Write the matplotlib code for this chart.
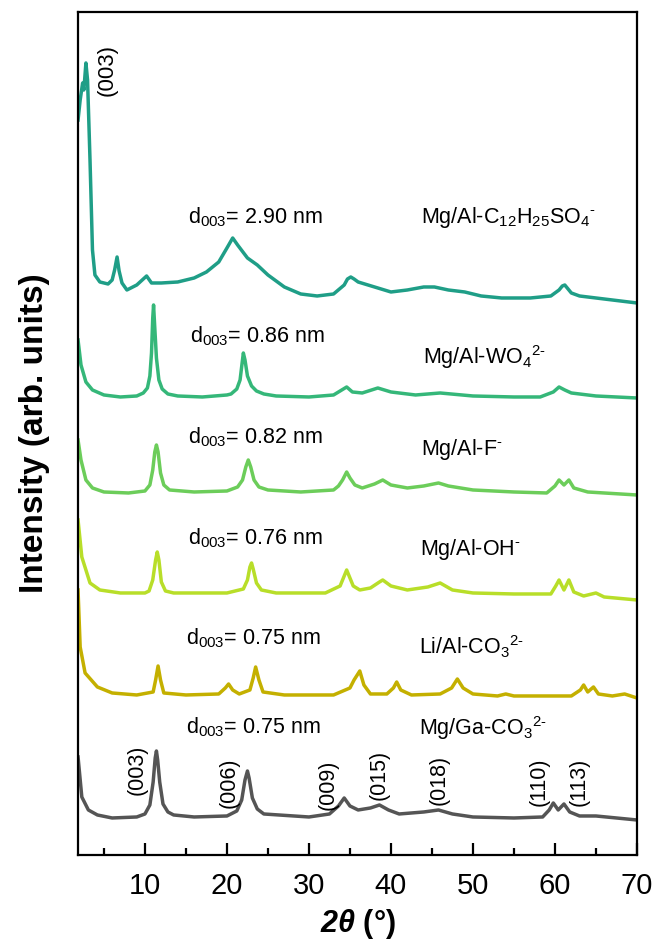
import numpy as np
import matplotlib
matplotlib.use('Agg')
import matplotlib.pyplot as plt

plt.rcParams['font.family'] = ['Liberation Sans', 'DejaVu Sans']
plt.rcParams['mathtext.fontset'] = 'custom'
plt.rcParams['mathtext.rm'] = 'Liberation Sans'
plt.rcParams['mathtext.it'] = 'Liberation Sans:italic'
plt.rcParams['mathtext.bf'] = 'Liberation Sans:bold'
plt.rcParams['mathtext.bfit'] = 'Liberation Sans:bold:italic'
plt.rcParams['mathtext.default'] = 'regular'

# Patrones de difraccion (2theta, intensidad relativa)
tt_c12 = [1.84, 2.1, 2.4, 2.55, 2.8, 3.0, 3.3, 3.6, 3.9, 4.5, 5.5, 6.0, 6.3, 6.6, 6.85, 7.2, 7.8, 9.0,
          10.2, 10.8, 12, 14, 16, 17.5, 19, 20.0, 20.7, 21.3, 22.5, 23.7, 25, 27, 29, 31, 33, 34.3,
          34.7, 35.1, 35.5, 36, 38, 40, 42, 44, 45.3, 47, 49, 51, 53.5, 57, 59.5, 60.5, 60.9, 61.2,
          61.6, 62, 63, 66, 70]
i_c12 = [183, 203, 220, 213, 240, 223, 143, 53, 28, 21, 19, 23, 33, 46, 32, 20, 13, 18,
         27, 20, 20, 21, 25, 31, 41, 55, 65, 58, 45, 38, 28, 16, 9, 7, 9, 18,
         24, 26, 24, 21, 16, 11, 13, 16, 16, 13, 11, 7, 5, 5, 7, 13, 17, 18,
         14, 10, 7, 4, 0]

tt_wo4 = [1.84, 2.2, 2.8, 3.6, 5, 7, 9.0, 9.8, 10.3, 10.6, 10.8, 10.95, 11.05, 11.2, 11.4, 11.7, 12.1,
          12.8, 14, 17, 20, 20.5, 21.2, 21.6, 21.85, 22.0, 22.2, 22.5, 23.0, 23.6, 24.5, 26, 30, 33,
          34.0, 34.6, 35.3, 36.5, 38.4, 40, 43, 46, 50, 55, 58.2, 59.8, 60.5, 61.2, 62, 65, 70]
i_wo4 = [58, 33, 16, 8, 3, 1, 2, 5, 10, 22, 45, 80, 93, 70, 40, 18, 9,
         4, 2, 1, 3, 4, 9, 18, 35, 45, 38, 22, 12, 7, 4, 2, 1, 3,
         8, 11, 6, 5, 10, 6, 3, 5, 2, 1, 1, 6, 11, 8, 5, 2, 0]

tt_f = [1.84, 2.2, 2.8, 3.6, 5, 8, 10.0, 10.6, 10.95, 11.2, 11.4, 11.6, 11.9, 12.3, 13, 16, 20, 21.3,
        21.9, 22.3, 22.6, 22.9, 23.3, 23.9, 25, 29, 33, 33.6, 34.1, 34.6, 35.0, 35.6, 36.5, 38, 39,
        40, 42, 44, 45.8, 47, 50, 55, 59, 60.0, 60.5, 61.1, 61.7, 62.3, 64, 70]
i_f = [55, 35, 15, 7, 3, 2, 4, 10, 25, 43, 50, 43, 22, 10, 5, 3, 4, 8,
       15, 28, 35, 28, 15, 8, 5, 3, 5, 9, 15, 23, 17, 10, 7, 11, 15,
       10, 7, 9, 12, 9, 5, 3, 2, 9, 15, 10, 15, 7, 3, 0]

tt_oh = [1.84, 2.3, 3.3, 4.5, 7, 10, 10.5, 10.95, 11.3, 11.5, 11.7, 12.0, 12.5, 13.5, 20, 22.0, 22.5,
         22.8, 23.0, 23.2, 23.6, 24.2, 26, 32, 33.8, 34.2, 34.6, 34.9, 35.4, 36.2, 37.5, 38.6, 39,
         40, 42, 44.5, 46, 47.5, 50, 55, 59.5, 60.1, 60.5, 61.1, 61.7, 62.3, 63.5, 65, 66, 70]
i_oh = [80, 43, 17, 10, 7, 7, 9, 20, 40, 48, 40, 18, 9, 7, 7, 11, 20,
        33, 37, 31, 17, 10, 7, 7, 14, 22, 30, 24, 14, 10, 12, 18, 20,
        14, 10, 13, 17, 10, 7, 6, 6, 14, 20, 10, 20, 8, 4, 7, 3, 0]

tt_li = [1.84, 2.1, 2.7, 4.2, 6, 9, 11.0, 11.3, 11.6, 11.9, 12.3, 15, 19, 19.8, 20.2, 20.7, 21.5, 22.8,
         23.2, 23.5, 23.9, 24.4, 27, 33, 35.0, 35.5, 36.2, 36.7, 37.5, 39.5, 40.3, 40.7, 41.2, 42.5,
         46, 47.4, 48.1, 48.8, 50, 53, 54, 55, 62, 63.1, 63.5, 64.0, 64.7, 65.3, 67, 68.5, 70]
i_li = [108, 51, 25, 11, 5, 3, 6, 18, 32, 18, 5, 3, 4, 10, 14, 8, 4, 8,
        20, 31, 18, 6, 3, 3, 10, 18, 27, 13, 4, 4, 10, 16, 8, 3,
        4, 10, 19, 10, 4, 2, 4, 2, 2, 8, 13, 6, 11, 4, 2, 4, 0]

tt_ga = [1.84, 2.3, 3.1, 4.2, 6, 9.0, 10.0, 10.6, 11.0, 11.25, 11.4, 11.55, 11.8, 12.2, 12.8, 13.5, 16,
         20, 21.2, 21.8, 22.2, 22.5, 22.7, 23.1, 23.7, 24.5, 30, 32.5, 33.6, 34.3, 35, 36, 37.5,
         38.6, 39.7, 41, 44, 45.8, 47.5, 50, 55, 58.5, 59.3, 59.8, 60.4, 61.1, 61.8, 63, 65, 70]
i_ga = [63, 23, 10, 5, 2, 3, 6, 15, 38, 62, 69, 60, 38, 16, 8, 5, 3,
        4, 9, 20, 40, 49, 42, 22, 11, 6, 3, 6, 14, 22, 14, 10, 12,
        15, 10, 6, 8, 10, 6, 3, 2, 3, 10, 17, 10, 16, 8, 4, 4, 0]

patterns = [(tt_c12, i_c12), (tt_wo4, i_wo4), (tt_f, i_f), (tt_oh, i_oh), (tt_li, i_li), (tt_ga, i_ga)]
offsets = [552, 457, 360, 255, 157, 35]
colors = ['#1f9e87', '#35b779', '#6ccd5a', '#b8de29', '#c4b000', '#555555']
samples = [r'Mg/Al-C$_{12}$H$_{25}$SO$_4$$^{\text{-}}$', r'Mg/Al-WO$_4$$^{\text{2-}}$', r'Mg/Al-F$^{\text{-}}$',
           r'Mg/Al-OH$^{\text{-}}$', r'Li/Al-CO$_3$$^{\text{2-}}$', r'Mg/Ga-CO$_3$$^{\text{2-}}$']
d_spacing = ['2.90', '0.86', '0.82', '0.76', '0.75', '0.75']
d_pos = [(15.27, 632), (15.5, 513), (15.27, 412), (15.27, 311), (15.0, 211), (15.0, 122)]
s_pos = [(43.66, 632), (43.9, 491), (43.66, 400), (43.5, 300), (43.4, 201), (43.4, 120)]

hkl = ['(003)', '(006)', '(009)', '(015)', '(018)', '(110)', '(113)']
hkl_pos = [(9.05, 85), (20.3, 72), (32.3, 70), (38.5, 80), (45.9, 75), (58.1, 73), (63.0, 73)]

fig = plt.figure(figsize=(6.58, 9.44), dpi=100)
ax = fig.add_axes([0.1186, 0.0943, 0.8494, 0.8930])

for (tt, inten), off, c in zip(patterns, offsets, colors):
    ax.plot(tt, np.array(inten) + off, color=c, lw=2.5, solid_joinstyle='round')

for d, (x, y) in zip(d_spacing, d_pos):
    ax.text(x, y, r'd$_{003}$= ' + d + ' nm', fontsize=15.5, va='baseline')
for s, (x, y) in zip(samples, s_pos):
    ax.text(x, y, s, fontsize=15.5, va='baseline')
for h, (x, y) in zip(hkl, hkl_pos):
    ax.text(x, y, h, fontsize=15.5, rotation=90, ha='center', va='center')
ax.text(5.35, 785, '(003)', fontsize=16, rotation=90, ha='center', va='center')

ax.set_xlim(1.84, 70)
ax.set_ylim(0, 843)
ax.set_xticks([10, 20, 30, 40, 50, 60, 70])
ax.set_xticks([5, 15, 25, 35, 45, 55, 65], minor=True)
ax.set_yticks([])
ax.tick_params(axis='x', which='major', direction='in', length=9, width=1.6, labelsize=21, pad=12)
ax.tick_params(axis='x', which='minor', direction='in', length=5, width=1.6)
for sp in ax.spines.values():
    sp.set_linewidth(1.6)

ax.set_xlabel(r'$\mathbfit{2\theta}$ (°)', fontsize=22, fontweight='bold', labelpad=5)
ax.set_ylabel('Intensity (arb. units)', fontsize=24, fontweight='bold', labelpad=20)

plt.savefig('out.png', dpi=100)
